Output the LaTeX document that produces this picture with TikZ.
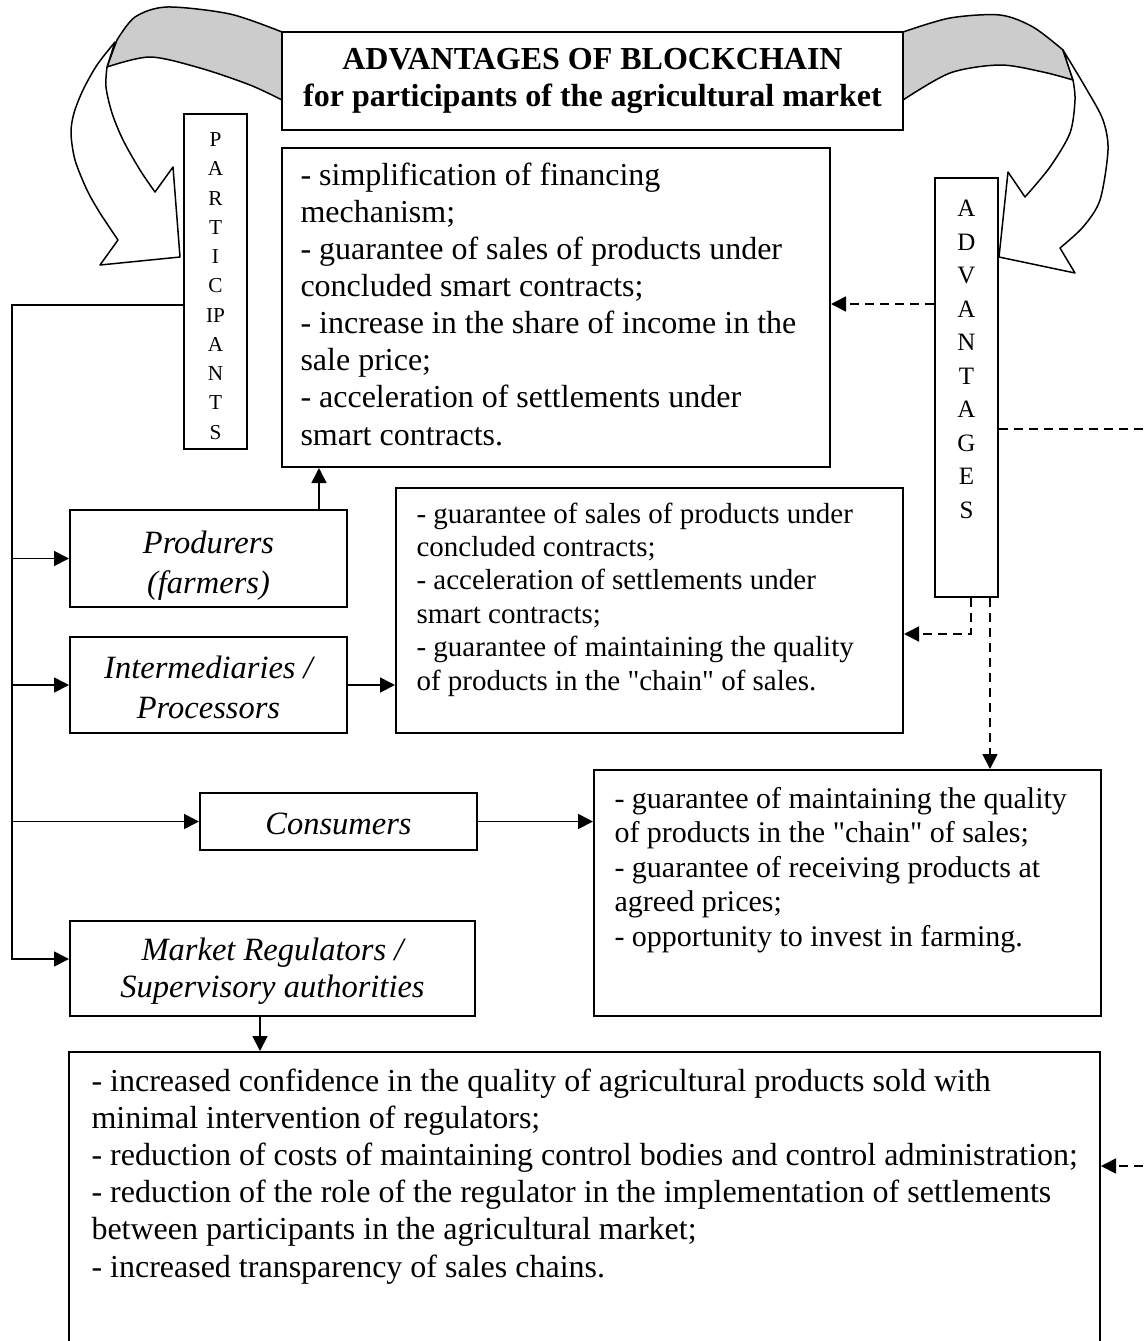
\documentclass[tikz,border=0pt]{standalone}
\usepackage{fontspec}
\setmainfont{Liberation Serif}[Ligatures=TeXOff]
\usetikzlibrary{arrows.meta, fit}
\tikzset{
  box/.style={draw, line width=0.8pt, inner sep=0pt},
  line/.style={line width=0.7pt},
  dline/.style={line width=0.7pt, dash pattern=on 3.6pt off 2.4pt},
  bandline/.style={line width=0.6pt, line join=round},
  titletext/.style={font=\fontsize{12.8}{14.8}\selectfont\bfseries, align=center, inner sep=0pt},
  roletext/.style={font=\fontsize{13}{16}\selectfont\itshape, align=center, inner sep=0pt},
  listtext/.style={font=\fontsize{12.8}{14.84}\selectfont, align=left, inner sep=0pt},
  smalltext/.style={font=\fontsize{11.6}{13.36}\selectfont, align=left, inner sep=0pt},
  midtext/.style={font=\fontsize{12}{13.8}\selectfont, align=left, inner sep=0pt},
  partletters/.style={font=\fontsize{8.5}{11.7}\selectfont, align=center, inner sep=0pt},
  advletters/.style={font=\fontsize{10}{13.4}\selectfont, align=center, inner sep=0pt}
}

\begin{document}
\begin{tikzpicture}[x=0.4pt, y=-0.4pt, >={Triangle[length=6pt, width=6pt]}]
  \useasboundingbox (0,0) rectangle (1145,1341);
  \clip (0,0) rectangle (1145,1341);
  % curved arrows round the title
  \draw[bandline, fill=black!20] plot[smooth] coordinates {(282,32) (230,14) (167,7) (135,17) (117,40)}
    -- plot[smooth] coordinates {(107,67) (150,57) (200,68) (250,85) (282,100)} -- cycle;
  \draw[bandline, fill=white] plot[smooth] coordinates {(115,42) (97,65) (83,90) (74,113) (71,133) (75,160) (87,190) (100,213) (118,240)}
    -- (100,265) -- (180,257) -- (173,167) -- (155,192)
    -- plot[smooth] coordinates {(155,192) (140,170) (123,140) (112,113) (106,87) (107,67)} -- cycle;
  \draw[bandline, fill=black!20] plot[smooth] coordinates {(903,32) (950,18) (1000,15) (1033,27) (1063,50)}
    -- plot[smooth] coordinates {(1073,80) (1043,72) (1000,65) (950,73) (903,100)} -- cycle;
  \draw[bandline, fill=white] plot[smooth] coordinates {(1063,50) (1087,90) (1103,120) (1108,150) (1100,200) (1083,227) (1060,248)}
    -- (1075,273) -- (999,257) -- (1008,172) -- (1025,197)
    -- plot[smooth] coordinates {(1025,197) (1050,167) (1070,133) (1075,100) (1073,80)} -- cycle;

  % title
  \node[box, fill=white, fit={(282,32) (903,130)}] (title) {};
  \node[titletext] (titlename) at (title.center) {ADVANTAGES OF BLOCKCHAIN\\for participants of the agricultural market};

  % vertical labels (base = last line)
  \node[box, fill=white, fit={(184,114) (247,449)}] (parts) {};
  \node[partletters, anchor=base] (partsword) at (215.5,439) {P\\A\\R\\T\\I\\C\\IP\\A\\N\\T\\S};
  \node[box, fill=white, fit={(935,178) (998,597)}] (adv) {};
  \node[advletters, anchor=base] (advword) at (966.5,518) {A\\D\\V\\A\\N\\T\\A\\G\\E\\S};

  % participants
  \node[box, fit={(70,510) (347,607)}] (prod) {};
  \node[roletext] (prodname) at ([yshift=-3pt]prod.center) {Produrers\\(farmers)};
  \node[box, fit={(70,637) (347,733)}] (inter) {};
  \node[roletext] (intername) at ([yshift=-1pt]inter.center) {Intermediaries /\\Processors};
  \node[box, fit={(200,793) (477,850)}] (cons) {};
  \node[roletext] (consname) at ([yshift=-1pt]cons.center) {Consumers};
  \node[box, fit={(70,921) (475,1016)}] (mreg) {};
  \node[roletext, font=\fontsize{13}{15}\selectfont\itshape] (mregname) at ([yshift=-1pt]mreg.center) {Market Regulators /\\Supervisory authorities};

  % advantages
  \node[box, fit={(282,148) (830,467)}] (prodadv) {};
  \node[listtext, anchor=base west] (prodlist) at (300,445) {- simplification of financing\\mechanism;\\- guarantee of sales of products under\\concluded smart contracts;\\- increase in the share of income in the\\sale price;\\- acceleration of settlements under\\smart contracts.};
  \node[box, fit={(396,488) (903,733)}] (interadv) {};
  \node[smalltext, anchor=base west] (interlist) at (416,690) {- guarantee of sales of products under\\concluded contracts;\\- acceleration of settlements under\\smart contracts;\\- guarantee of maintaining the quality\\of products in the "chain" of sales.};
  \node[box, fit={(594,770) (1101,1016)}] (consadv) {};
  \node[midtext, anchor=base west] (conslist) at (614,946) {- guarantee of maintaining the quality\\of products in the "chain" of sales;\\- guarantee of receiving products at\\agreed prices;\\- opportunity to invest in farming.};
  \node[box, fit={(69,1052) (1100,1400)}] (regadv) {};
  \node[listtext, anchor=base west] (reglist) at (91,1277) {- increased confidence in the quality of agricultural products sold with\\minimal intervention of regulators;\\- reduction of costs of maintaining control bodies and control administration;\\- reduction of the role of the regulator in the implementation of settlements\\between participants in the agricultural market;\\- increased transparency of sales chains.};

  % solid connectors
  \coordinate (trunktop) at (12,305);
  \coordinate (trunkbot) at (12,959);
  \draw[line, ->] (parts.west |- trunktop) -- (trunktop) -- (trunkbot) -- (mreg.west |- trunkbot);
  \draw[line, ->] (trunktop |- prod.west) -- (prod.west);
  \draw[line, ->] (trunktop |- inter.west) -- (inter.west);
  \draw[line, ->] (trunktop |- cons.west) -- (cons.west);
  \draw[line, ->] (prod.north -| 319,0) -- (prodadv.south -| 319,0);
  \draw[line, ->] (inter.east) -- (inter.east -| interadv.west);
  \draw[line, ->] (cons.east) -- (cons.east -| consadv.west);
  \draw[line, ->] (mreg.south -| 260,0) -- (regadv.north -| 260,0);

  % dashed connectors
  \draw[dline, ->] (adv.west |- 0,304) -- (prodadv.east |- 0,304);
  \draw[dline, ->] (adv.south -| 971,0) |- (interadv.east |- 0,634);
  \draw[dline, ->] (adv.south -| 990,0) -- (consadv.north -| 990,0);
  \draw[dline, ->] (adv.east |- 0,429) -- (1160,429) |- (regadv.east |- 0,1166);
\end{tikzpicture}
\end{document}
